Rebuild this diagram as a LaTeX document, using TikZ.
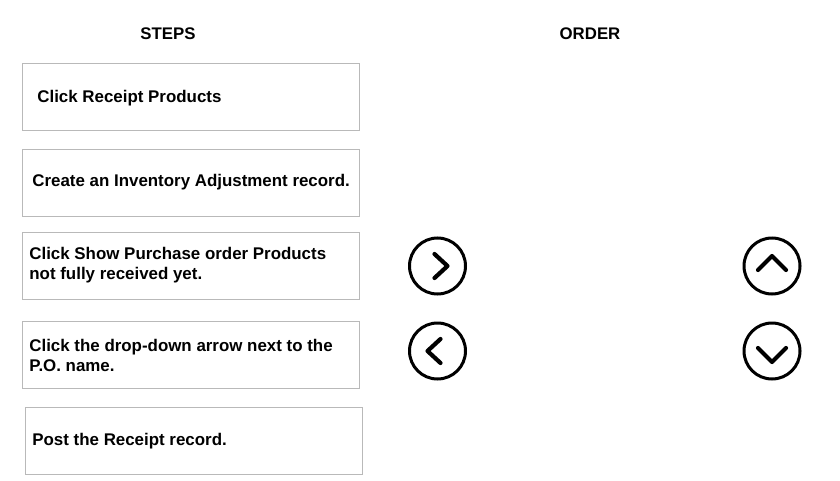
\documentclass[tikz,border=0pt]{standalone}
\usepackage{fontspec}
\setmainfont{Liberation Sans}
\usepackage{tikz}
\usepackage{xcolor}
\definecolor{boxgray}{RGB}{185,185,185}

\tikzset{
  stepbox/.style={draw=boxgray, line width=0.5pt, minimum width=168.5pt,
    minimum height=33.5pt, anchor=north west},
  steptxt/.style={anchor=west, align=left, inner sep=0pt,
    font=\bfseries\fontsize{8.45}{10}\selectfont},
  headtxt/.style={font=\bfseries\fontsize{8.4}{10}\selectfont},
  navbtn/.style={circle, draw=black, line width=1.5pt, minimum size=28pt, inner sep=0pt},
  chev/.style={line width=2.1pt, line cap=round, line join=round}
}

\begin{document}
\begin{tikzpicture}[x=0.5pt, y=-0.5pt]
\useasboundingbox (0,0) rectangle (840,481);

% ── Spaltenköpfe ─────────────────────────────────────────────────────
\node[headtxt] (hsteps) at (168,34) {STEPS};
\node[headtxt] (horder) at (590,34) {ORDER};

% ── Schritt-Kästen ───────────────────────────────────────────────────
\foreach \row/\xl/\yt/\pad/\dy/\txt in {
  1/22/63/15/1.5/{Click Receipt Products},
  2/22/149/10/-1/{Create an Inventory Adjustment record.},
  3/22/232/7/-1/{Click Show Purchase order Products\\not fully received yet.},
  4/22/321/7/0/{Click the drop-down arrow next to the\\P.O. name.},
  5/25/407/7/0/{Post the Receipt record.}}
{
  \pgfmathsetmacro{\ps}{\pad*0.5}
  \pgfmathsetmacro{\pdy}{\dy*0.5}
  \node[stepbox] (step\row) at (\xl,\yt) {};
  \node[steptxt] (steptxt\row) at ([xshift=\ps pt, yshift=-\pdy pt]step\row.west) {\txt};
}

% ── Pfeil-Knöpfe ─────────────────────────────────────────────────────
\node[navbtn] (btnright) at (437.5,266) {};
\node[navbtn] (btnleft)  at (437.5,351) {};
\node[navbtn] (btnup)    at (772,266) {};
\node[navbtn] (btndown)  at (772,351) {};

\draw[chev] (btnright.center) ++(-3,-12) -- ++(13,12) -- ++(-13,12);
\draw[chev] (btnleft.center)  ++(3,-12) -- ++(-13,12) -- ++(13,12);
\draw[chev] (btnup.center)    ++(-14,4) -- ++(14,-14) -- ++(14,14);
\draw[chev] (btndown.center)  ++(-14,-3) -- ++(14,14) -- ++(14,-14);

\end{tikzpicture}
\end{document}
